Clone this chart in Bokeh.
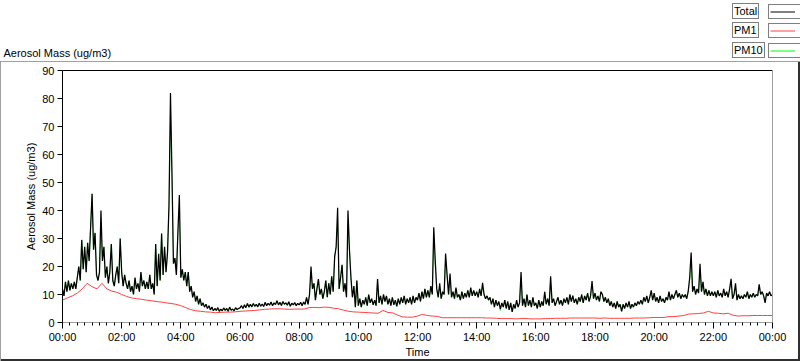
from bokeh.plotting import figure
from bokeh.models import (Range1d, FixedTicker, LinearAxis, Legend, LegendItem,
                          ColumnDataSource, Label)
from bokeh.core.properties import value
from bokeh.embed import file_html
from bokeh.resources import INLINE

FONT = "Liberation Sans"

# ---------------- data ----------------
# Total aerosol mass, one value every 3 minutes, one list per hour (ug/m3)
total_h00 = [12, 9.5, 14.5, 11, 15, 11.5, 14, 12, 14.5, 12, 16, 20, 15, 29.5, 19, 27, 18, 28.5, 22, 34]
total_h01 = [46, 26, 32, 17, 15, 18, 40, 22, 27, 16, 20, 14, 18, 28, 15, 13, 17, 20, 14, 30]
total_h02 = [18, 13, 17, 14, 12, 15, 11, 13, 10, 16, 12, 14, 11, 18, 13, 15, 12, 14.5, 12, 17]
total_h03 = [12, 14, 10, 28, 13, 24.5, 15, 31.8, 17, 27, 18, 25, 42, 82, 53.5, 21, 23, 17, 32, 45.5]
total_h04 = [16, 19, 15, 18, 13, 18, 11, 13, 9, 11, 7.5, 9.5, 6.5, 8.5, 6, 7, 5.5, 6.5, 5, 6]
total_h05 = [4.5, 5.5, 4.2, 5, 4.3, 5.3, 4, 4.8, 4.2, 5.2, 4.3, 5, 4, 5.5, 4.4, 4.8, 4.2, 5.3, 4.6, 5]
total_h06 = [5.2, 6, 5, 6.3, 5.3, 6.8, 5.5, 6.5, 5.6, 6.8, 5.8, 6.5, 5.6, 6.9, 5.8, 6.6, 5.7, 7.2, 6, 6.8]
total_h07 = [6.2, 7.3, 6, 7, 6.4, 7.8, 6.3, 7.2, 6.1, 7.5, 6.5, 7, 6.2, 7.4, 5.8, 6.9, 6.3, 7.1, 6, 6.8]
total_h08 = [6.3, 7.2, 6, 7.3, 6.5, 9, 6.5, 10, 20, 12, 14, 8, 12, 15.5, 10, 12, 8.5, 11, 15, 9]
total_h09 = [14, 10, 16.5, 11, 23.5, 27, 41, 12, 16, 20.6, 11, 14, 9, 40, 26, 16, 9, 13, 5.5, 15]
total_h10 = [6, 8.5, 5.5, 8, 6.5, 9, 6, 10, 7, 8.5, 6.3, 8, 6, 15.5, 7, 9.5, 6.5, 10, 7.5, 9.5]
total_h11 = [6.5, 8.5, 6, 9, 6.3, 8, 5.8, 8.5, 6.5, 9, 7, 9.5, 6.5, 8.5, 7, 9, 6.5, 9.5, 7, 9]
total_h12 = [8, 10.5, 7.5, 11, 8.5, 12, 9, 11.5, 9, 13, 10, 34, 22, 12, 9, 14, 8.5, 11, 10, 24.6]
total_h13 = [17, 10, 17.5, 9, 11, 8.5, 12.5, 9, 10, 8, 11, 8.5, 10.5, 9, 11.5, 9, 12.5, 9.5, 11.5, 9.5]
total_h14 = [11, 9, 12, 9.5, 14.2, 10, 8.5, 9.5, 8, 9, 6.5, 8.5, 5.5, 8, 6, 7.5, 4.8, 7, 5.5, 8]
total_h15 = [5, 7.5, 4.5, 7, 3.8, 6.5, 5, 8, 5.5, 7, 18, 6, 8.5, 5.5, 10, 6, 8, 5.5, 9, 6]
total_h16 = [7, 5, 8, 5.5, 7.5, 6, 11, 6.5, 8.5, 6, 16.5, 7, 8.5, 6, 7.5, 9, 6.5, 8, 6, 8.5]
total_h17 = [7, 9, 6.5, 10, 7.5, 9.6, 7, 8.5, 6.5, 9, 7.5, 10, 7, 9.5, 8, 10.5, 7.5, 9.5, 14.8, 8.5]
total_h18 = [10.5, 8, 9.5, 7.5, 11, 10, 7.5, 9, 7, 8.5, 6, 7.5, 5.5, 7, 5, 7.5, 5.5, 6.5, 4, 6.5]
total_h19 = [5, 7, 5.5, 7.5, 5, 6.5, 5.5, 7, 6, 7.5, 6.5, 8, 6.5, 9, 7.5, 9.5, 7, 9, 11.5, 8]
total_h20 = [10.5, 7.5, 9, 7, 9.5, 7.5, 8.5, 7, 9, 8, 11, 8, 10, 8.5, 10, 11.5, 9, 10.5, 8.5, 10]
total_h21 = [9, 10, 8.5, 11, 16, 25, 11, 13, 10, 12, 10.5, 21, 11, 14.5, 10, 12, 9.5, 11.5, 9.5, 11]
total_h22 = [9.5, 11, 9, 11.5, 9.5, 10.5, 9, 12, 9.5, 11, 9, 12, 15.6, 8.5, 10, 14, 8, 10, 8.5, 9.5]
total_h23 = [8.5, 10, 9, 11, 8.5, 10, 9, 10.5, 9, 10, 9.5, 13.6, 10, 11, 9.5, 7, 10.5, 9.5, 11, 9.5]
total_end = [10]

# PM10, one value every 3 minutes
pm10_h00 = [12, 9.5, 14.5, 11, 15, 11.5, 14, 12, 14.5, 12, 16, 20, 15, 29.5, 19, 27, 18, 28.5, 22, 34]
pm10_h01 = [46, 26, 32, 17, 15, 18, 34, 22, 27, 16, 20, 14, 18, 28, 15, 13, 17, 20, 14, 30]
pm10_h02 = [18, 13, 17, 14, 12, 15, 11, 13, 10, 16, 12, 14, 11, 18, 13, 15, 12, 14.5, 12, 17]
pm10_h03 = [12, 14, 10, 28, 13, 24.5, 15, 31.8, 17, 27, 18, 25, 42, 72, 53.5, 21, 23, 17, 32, 40]
pm10_h04 = [16, 19, 15, 18, 13, 18, 11, 13, 9, 11, 7.5, 9.5, 6.5, 8.5, 6, 7, 5.5, 6.5, 5, 6]
pm10_h05 = [4.5, 5.5, 4.2, 5, 4.3, 5.3, 4, 4.8, 4.2, 5.2, 4.3, 5, 4, 5.5, 4.4, 4.8, 4.2, 5.3, 4.6, 5]
pm10_h06 = [5.2, 6, 5, 6.3, 5.3, 6.8, 5.5, 6.5, 5.6, 6.8, 5.8, 6.5, 5.6, 6.9, 5.8, 6.6, 5.7, 7.2, 6, 6.8]
pm10_h07 = [6.2, 7.3, 6, 7, 6.4, 7.8, 6.3, 7.2, 6.1, 7.5, 6.5, 7, 6.2, 7.4, 5.8, 6.9, 6.3, 7.1, 6, 6.8]
pm10_h08 = [6.3, 7.2, 6, 7.3, 6.5, 9, 6.5, 10, 17, 12, 14, 8, 12, 15.5, 10, 12, 8.5, 11, 15, 9]
pm10_h09 = [14, 10, 16.5, 11, 23.5, 27, 36, 12, 16, 20.6, 11, 14, 9, 35, 26, 16, 9, 13, 5.5, 15]
pm10_h10 = [6, 8.5, 5.5, 8, 6.5, 9, 6, 10, 7, 8.5, 6.3, 8, 6, 14, 7, 9.5, 6.5, 10, 7.5, 9.5]
pm10_h11 = [6.5, 8.5, 6, 9, 6.3, 8, 5.8, 8.5, 6.5, 9, 7, 9.5, 6.5, 8.5, 7, 9, 6.5, 9.5, 7, 9]
pm10_h12 = [8, 10.5, 7.5, 11, 8.5, 12, 9, 11.5, 9, 13, 10, 30, 20, 12, 9, 13, 8.5, 11, 10, 22]
pm10_h13 = [17, 10, 16, 9, 11, 8.5, 11, 9, 10, 8, 11, 8.5, 10.5, 9, 11.5, 9, 11.5, 9.5, 11.5, 9.5]
pm10_h14 = [11, 9, 12, 9.5, 13, 10, 8.5, 9.5, 8, 9, 6.5, 8.5, 5.5, 8, 6, 7.5, 4.2, 7, 5.5, 8]
pm10_h15 = [5, 7.5, 4.5, 7, 3.8, 6.5, 5, 8, 5.5, 7, 16, 6, 8.5, 5.5, 10, 6, 8, 5.5, 9, 6]
pm10_h16 = [7, 5, 8, 5.5, 7.5, 6, 11, 6.5, 8.5, 6, 15, 7, 8.5, 6, 7.5, 9, 6.5, 8, 6, 8.5]
pm10_h17 = [7, 9, 6.5, 10, 7.5, 9.6, 7, 8.5, 6.5, 9, 7.5, 10, 7, 9.5, 8, 10.5, 7.5, 9.5, 13.5, 8.5]
pm10_h18 = [10.5, 8, 9.5, 7.5, 11, 10, 7.5, 9, 7, 8.5, 6, 7.5, 5.5, 7, 5, 7.5, 5.5, 6.5, 4, 6.5]
pm10_h19 = [5, 7, 5.5, 7.5, 5, 6.5, 5.5, 7, 6, 7.5, 6.5, 8, 6.5, 9, 7.5, 9.5, 7, 9, 10.5, 8]
pm10_h20 = [10.5, 7.5, 9, 7, 9.5, 7.5, 8.5, 7, 9, 8, 10, 8, 10, 8.5, 10, 10.5, 9, 10.5, 8.5, 10]
pm10_h21 = [9, 10, 8.5, 11, 14.5, 22, 11, 13, 10, 12, 10.5, 19, 11, 14.5, 10, 12, 9.5, 11.5, 9.5, 11]
pm10_h22 = [9.5, 11, 9, 11.5, 9.5, 10.5, 9, 11, 9.5, 11, 9, 12, 14, 8.5, 10, 12.5, 8, 10, 8.5, 9.5]
pm10_h23 = [8.5, 10, 9, 11, 8.5, 10, 9, 10.5, 9, 10, 9.5, 12.5, 10, 11, 9.5, 8, 10.5, 9.5, 11, 9.5]
pm10_end = [10]

# PM1, one value every 10 minutes
pm1_h00 = [8.0, 8.8, 9.5, 10.5, 12.0, 14.0]
pm1_h01 = [12.8, 12.0, 14.0, 12.0, 11.2, 10.8]
pm1_h02 = [10.0, 9.3, 8.8, 8.5, 8.3, 8.0]
pm1_h03 = [7.8, 7.5, 7.3, 7.0, 6.8, 6.5]
pm1_h04 = [6.0, 5.3, 4.6, 4.2, 4.0, 3.8]
pm1_h05 = [3.7, 3.5, 3.6, 3.7, 3.7, 3.8]
pm1_h06 = [4.0, 4.1, 4.2, 4.3, 4.5, 4.7]
pm1_h07 = [4.8, 4.9, 4.9, 4.8, 4.7, 4.8]
pm1_h08 = [4.8, 4.8, 5.3, 5.4, 5.3, 5.5]
pm1_h09 = [5.4, 5.1, 4.9, 4.4, 4.0, 3.8]
pm1_h10 = [3.7, 3.6, 3.5, 3.4, 3.3, 4.3]
pm1_h11 = [3.6, 3.4, 2.6, 2.0, 1.9, 1.9]
pm1_h12 = [2.3, 2.9, 2.5, 2.3, 2.2, 1.7]
pm1_h13 = [1.7, 1.7, 1.7, 1.7, 1.7, 1.7]
pm1_h14 = [1.7, 1.7, 1.6, 1.6, 1.5, 1.4]
pm1_h15 = [1.4, 1.4, 1.3, 1.4, 1.4, 1.3]
pm1_h16 = [1.3, 1.3, 1.4, 1.4, 1.5, 1.5]
pm1_h17 = [1.5, 1.6, 1.6, 1.6, 1.6, 1.6]
pm1_h18 = [1.6, 1.5, 1.6, 1.5, 1.5, 1.5]
pm1_h19 = [1.5, 1.5, 1.6, 1.6, 1.6, 1.7]
pm1_h20 = [1.8, 1.8, 1.8, 2.1, 2.1, 2.3]
pm1_h21 = [2.5, 3.0, 3.1, 3.2, 3.4, 4.0]
pm1_h22 = [3.4, 3.3, 3.1, 3.3, 2.6, 2.3]
pm1_h23 = [2.4, 2.4, 2.5, 2.5, 2.5, 2.5]
pm1_end = [2.5]

hour_ticks = [0, 2, 4, 6, 8, 10, 12, 14, 16, 18, 20, 22, 24]
hour_labels = ["00:00", "02:00", "04:00", "06:00", "08:00", "10:00", "12:00",
               "14:00", "16:00", "18:00", "20:00", "22:00", "00:00"]
y_ticks = [0, 10, 20, 30, 40, 50, 60, 70, 80, 90]
series_names = ["Total", "PM1", "PM10"]
series_colors = ["black", "#ff4040", "#00ff00"]

# ---------------- assemble ----------------
total = (total_h00 + total_h01 + total_h02 + total_h03 + total_h04 + total_h05 + total_h06 + total_h07 +
         total_h08 + total_h09 + total_h10 + total_h11 + total_h12 + total_h13 + total_h14 + total_h15 +
         total_h16 + total_h17 + total_h18 + total_h19 + total_h20 + total_h21 + total_h22 + total_h23 + total_end)
pm10 = (pm10_h00 + pm10_h01 + pm10_h02 + pm10_h03 + pm10_h04 + pm10_h05 + pm10_h06 + pm10_h07 +
        pm10_h08 + pm10_h09 + pm10_h10 + pm10_h11 + pm10_h12 + pm10_h13 + pm10_h14 + pm10_h15 +
        pm10_h16 + pm10_h17 + pm10_h18 + pm10_h19 + pm10_h20 + pm10_h21 + pm10_h22 + pm10_h23 + pm10_end)
pm1 = (pm1_h00 + pm1_h01 + pm1_h02 + pm1_h03 + pm1_h04 + pm1_h05 + pm1_h06 + pm1_h07 +
       pm1_h08 + pm1_h09 + pm1_h10 + pm1_h11 + pm1_h12 + pm1_h13 + pm1_h14 + pm1_h15 +
       pm1_h16 + pm1_h17 + pm1_h18 + pm1_h19 + pm1_h20 + pm1_h21 + pm1_h22 + pm1_h23 + pm1_end)

t3 = [k * 3 / 60.0 for k in range(len(total))]      # hours
t10 = [k * 10 / 60.0 for k in range(len(pm1))]      # hours

src3 = ColumnDataSource(dict(t=t3, total=total, pm10=pm10))
src10 = ColumnDataSource(dict(t=t10, pm1=pm1))

# ---------------- header strip: plot name + legend ----------------
top = figure(width=800, height=61, output_backend="svg", toolbar_location=None,
             x_range=Range1d(0, 800), y_range=Range1d(61, 0),
             x_axis_type=None, y_axis_type=None,
             min_border_left=0, min_border_right=0, min_border_top=0, min_border_bottom=0)
top.outline_line_color = None
top.background_fill_color = "white"
top.border_fill_color = "white"

top.add_layout(Label(x=3, y=52, text="Aerosol Mass (ug/m3)", text_baseline="alphabetic",
                     text_font=FONT, text_font_size="11px", text_color="black"))

# legend swatches use the series themselves (hidden in this header strip)
sw_specs = [("t", "total", src3), ("t", "pm1", src10), ("t", "pm10", src3)]
row_bottoms = [42, 23, 3]
for name, col, yb, (xf, yf, src) in zip(series_names, series_colors, row_bottoms, sw_specs):
    swatch = top.line(xf, yf, source=src, line_color=col, line_width=1, visible=False)
    lab = Legend(items=[LegendItem(label=value(name), renderers=[swatch])], location=(732, yb),
                 glyph_width=0, glyph_height=11, label_height=11, label_standoff=0,
                 padding=1, margin=0, spacing=0)
    sw = Legend(items=[LegendItem(label=value(""), renderers=[swatch])], location=(768, yb),
                glyph_width=25, glyph_height=11, label_height=11, label_standoff=0,
                padding=1, margin=0, spacing=0)
    for lg in (lab, sw):
        lg.border_line_color = "black"
        lg.border_line_width = 1
        lg.background_fill_color = "white"
        lg.background_fill_alpha = 1
        lg.inactive_fill_alpha = 0
        lg.click_policy = "none"
        lg.label_text_font = FONT
        lg.label_text_font_size = "11px"
        lg.label_text_color = "black"
        top.add_layout(lg)

# ---------------- main chart ----------------
p = figure(width=800, height=300, output_backend="svg", toolbar_location=None,
           x_range=Range1d(0, 24), y_range=Range1d(0, 90),
           x_axis_type=None, y_axis_type=None,
           min_border_left=62, min_border_right=28, min_border_top=9, min_border_bottom=39,
           styles={"background-color": "white",
                   "box-shadow": "inset 1px 1px 0 #a0a0a0, inset -2px -2px 0 #303030"})
p.background_fill_color = "white"
p.border_fill_alpha = 0
p.outline_line_color = None

r_pm1 = p.line("t", "pm1", source=src10, line_color=series_colors[1], line_width=1)
r_pm10 = p.line("t", "pm10", source=src3, line_color=series_colors[2], line_width=0.5)
r_total = p.line("t", "total", source=src3, line_color=series_colors[0], line_width=1.25)

xa = LinearAxis(ticker=FixedTicker(ticks=hour_ticks, minor_ticks=[k * 0.25 for k in range(97)]),
                major_label_overrides={t: l for t, l in zip(hour_ticks, hour_labels)},
                axis_label="Time")
xa.axis_line_color = "#a0a0a0"
xa.major_tick_line_color = "black"
xa.minor_tick_line_color = "black"
xa.major_tick_out = 6
xa.major_tick_in = 0
xa.minor_tick_out = 3
xa.minor_tick_in = 0
xa.major_label_standoff = 2
xa.axis_label_standoff = 0
p.add_layout(xa, "below")

ya = LinearAxis(ticker=FixedTicker(ticks=y_ticks, minor_ticks=[]), axis_label="Aerosol Mass (ug/m3)")
ya.axis_line_color = "black"
ya.major_tick_line_color = "black"
ya.major_tick_out = 5
ya.major_tick_in = 0
ya.minor_tick_out = 0
ya.minor_tick_in = 0
ya.major_label_standoff = 3
ya.axis_label_standoff = 2
p.add_layout(ya, "left")

for ax in (xa, ya):
    ax.major_label_text_font = FONT
    ax.major_label_text_font_size = "11px"
    ax.major_label_text_color = "black"
    ax.axis_label_text_font = FONT
    ax.axis_label_text_font_size = "11px"
    ax.axis_label_text_font_style = "normal"
    ax.axis_label_text_color = "black"

for loc, col in (("above", "black"), ("right", "#a0a0a0")):
    ax = LinearAxis(ticker=FixedTicker(ticks=[], minor_ticks=[]))
    ax.axis_line_color = col
    ax.major_tick_out = 0
    ax.major_tick_in = 0
    ax.minor_tick_out = 0
    ax.minor_tick_in = 0
    ax.major_label_standoff = 0
    p.add_layout(ax, loc)

open("out.html", "w").write(file_html([top, p], INLINE))
